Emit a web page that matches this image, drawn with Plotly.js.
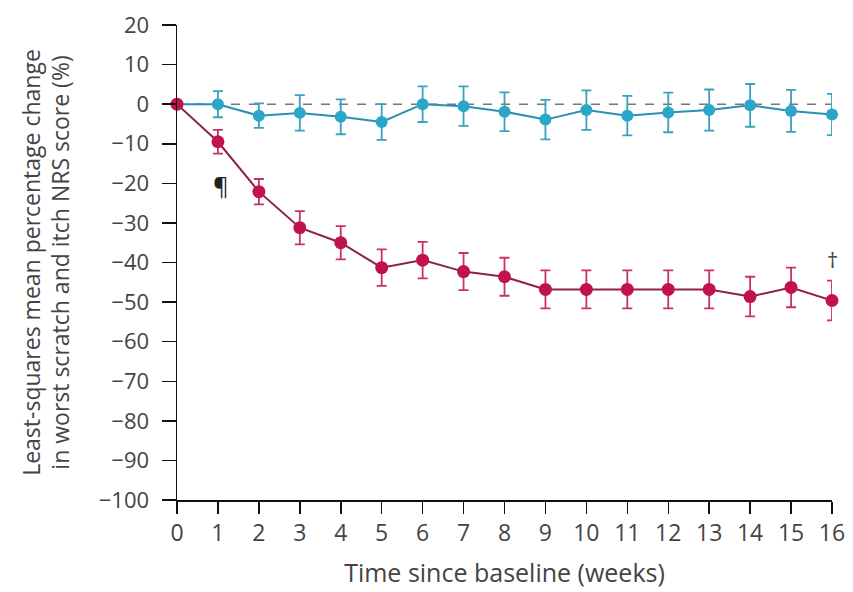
<!DOCTYPE html>
<html>
<head>
<meta charset="utf-8">
<script src="https://cdn.plot.ly/plotly-3.0.1.min.js"></script>
<style>html,body{margin:0;padding:0;background:#fff;}#chart{width:853px;height:592px;}</style>
</head>
<body>
<div id="chart"></div>
<script>
const weeks = [0,1,2,3,4,5,6,7,8,9,10,11,12,13,14,15,16];
const redMean = [0,-9.5,-22.1,-31.2,-35,-41.3,-39.4,-42.3,-43.6,-46.8,-46.8,-46.8,-46.8,-46.8,-48.6,-46.3,-49.6];
const redErr  = [0,3,3.2,4.2,4.2,4.6,4.6,4.7,4.8,4.8,4.8,4.8,4.8,4.8,5,5,5];
const blueMean = [0,0,-2.9,-2.2,-3.2,-4.5,0,-0.5,-1.9,-3.9,-1.5,-2.9,-2.1,-1.5,-0.3,-1.7,-2.6];
const blueErr  = [0,3.3,3.1,4.5,4.4,4.5,4.5,5,4.9,5,5,5,5,5.2,5.4,5.3,5.2];
const yTicks = [20,10,0,-10,-20,-30,-40,-50,-60,-70,-80,-90,-100];
const xTicks = weeks;

const FONT = "'Open Sans', 'Noto Sans', sans-serif";
const RED = '#c0134c', BLUE = '#2ba6c9';

const traces = [
  {x:[0,16], y:[0,0], mode:'lines', line:{color:'#777', width:1.5, dash:'dash'}, hoverinfo:'skip', showlegend:false, cliponaxis:false},
  {x:weeks, y:blueMean, mode:'lines+markers', cliponaxis:false, showlegend:false,
   line:{color:'#2a8fb0', width:2}, marker:{color:BLUE, size:12},
   error_y:{type:'data', array:blueErr, color:'#3aa0c0', thickness:1.8, width:5}},
  {x:weeks, y:redMean, mode:'lines+markers', cliponaxis:false, showlegend:false,
   line:{color:'#8e2244', width:2}, marker:{color:RED, size:13},
   error_y:{type:'data', array:redErr, color:'#c8325e', thickness:1.8, width:5}}
];

const layout = {
  width:853, height:592,
  margin:{l:177, r:21, t:25, b:92},
  paper_bgcolor:'#fff', plot_bgcolor:'#fff',
  font:{family:FONT, size:22, color:'#444'},
  xaxis:{range:[0,16], tickvals:xTicks, ticktext:xTicks.map(String), showgrid:false, zeroline:false,
         showline:true, linecolor:'#111', linewidth:1.5, ticks:'outside', ticklen:12, tickwidth:1.5, tickcolor:'#111',
         tickfont:{size:23, color:'#444'}, title:{text:'Time since baseline (weeks)', font:{size:25, color:'#444'}, standoff:17}},
  yaxis:{range:[-100,20], tickvals:yTicks, ticktext:yTicks.map(v => v<0 ? '\u2212'+Math.abs(v) : String(v)), showgrid:false, zeroline:false,
         showline:true, linecolor:'#111', linewidth:1.5, ticks:'outside', ticklen:14, tickwidth:1.5, tickcolor:'#111',
         ticklabelstandoff:8,
         tickfont:{size:22, color:'#444'},
         title:{text:'Least-squares mean percentage change<br>in worst scratch and itch NRS score (%)', font:{size:23, color:'#444'}, standoff:22}},
  annotations:[
    {x:1.08, y:-20.5, text:'\u00b6', showarrow:false, font:{size:24, color:'#222'}, xanchor:'center'},
    {x:16, y:-39, text:'\u2020', showarrow:false, font:{size:22, color:'#444'}, xanchor:'center'}
  ]
};

Plotly.newPlot('chart', traces, layout, {displayModeBar:false, staticPlot:true});
</script>
</body>
</html>
